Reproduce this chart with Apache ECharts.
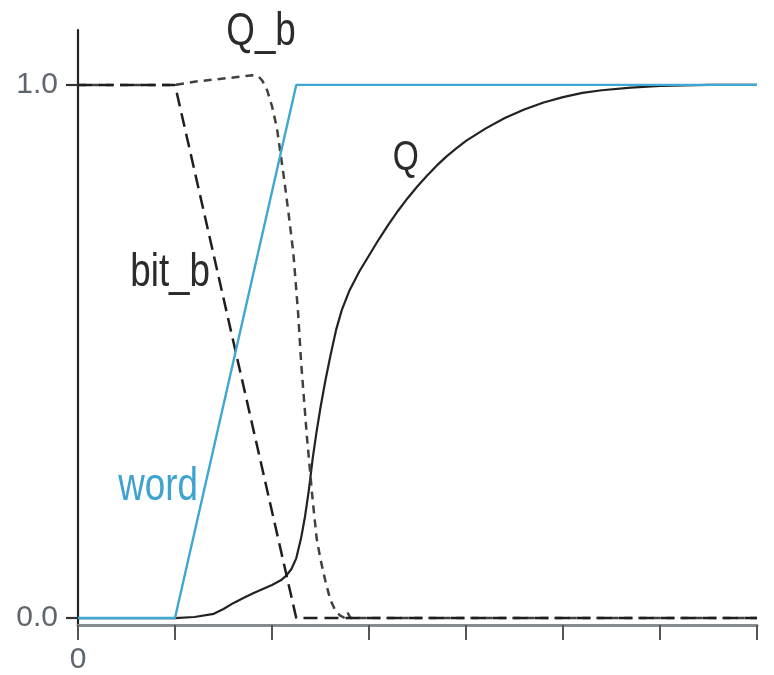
<!DOCTYPE html>
<html>
<head>
<meta charset="utf-8">
<title>Q / Q_b / bit_b / word</title>
<script src="https://cdn.jsdelivr.net/npm/echarts@6/dist/echarts.min.js"></script>
<style>
  html, body { margin: 0; padding: 0; background: #ffffff; }
  #chart { width: 774px; height: 675px; }
</style>
</head>
<body>
<div id="chart"></div>
<script>
// Signal waveforms: [time, level]
const word  = [[0, 0], [1, 0], [2.25, 1], [7, 1]];
const bitB  = [[0, 1], [1, 1], [2.25, 0], [7, 0]];
const qB    = [[0, 1], [1, 1], [1.2, 1.006], [1.4, 1.01], [1.6, 1.014], [1.8, 1.018],
               [1.86, 1.016], [1.9, 1.008], [1.95, 0.99], [2.0, 0.96], [2.05, 0.92],
               [2.12, 0.83], [2.17, 0.76], [2.22, 0.685], [2.27, 0.57], [2.3, 0.48],
               [2.33, 0.41], [2.36, 0.34], [2.39, 0.28], [2.42, 0.22], [2.46, 0.15],
               [2.5, 0.11], [2.55, 0.07], [2.6, 0.035], [2.65, 0.015], [2.7, 0.005],
               [2.75, 0], [2.78, 0.01], [2.81, 0], [7, 0]];
const q     = [[0, 0], [1, 0], [1.2, 0.002], [1.4, 0.008], [1.5, 0.017], [1.6, 0.028],
               [1.7, 0.037], [1.8, 0.046], [1.9, 0.054], [2.0, 0.062], [2.1, 0.072],
               [2.15, 0.08], [2.2, 0.092], [2.25, 0.112], [2.3, 0.15], [2.34, 0.19],
               [2.38, 0.24], [2.42, 0.3], [2.46, 0.35], [2.5, 0.395], [2.55, 0.445],
               [2.6, 0.49], [2.66, 0.54], [2.72, 0.578], [2.8, 0.615], [2.9, 0.65],
               [3.0, 0.68], [3.1, 0.71], [3.2, 0.738], [3.3, 0.764], [3.4, 0.788],
               [3.5, 0.81], [3.6, 0.83], [3.7, 0.849], [3.8, 0.866], [3.9, 0.881],
               [4.0, 0.895], [4.2, 0.918], [4.4, 0.938], [4.6, 0.954], [4.8, 0.967],
               [5.0, 0.977], [5.2, 0.985], [5.4, 0.99], [5.7, 0.995], [6.0, 0.998],
               [6.5, 1.0], [7, 1.0]];

// Axis ticks and their labels
const xTicks = [0, 1, 2, 3, 4, 5, 6, 7];
const xTickLabels = ['0', '', '', '', '', '', '', ''];
const yTicks = [0, 1];
const yTickLabels = ['0.0', '1.0'];

// Curve names written next to the curves, anchored in data units
const curveNames = ['Q_b', 'Q', 'bit_b', 'word'];
const curveNameAnchors = [[1.887, 1.098], [3.38, 0.863], [0.95, 0.647], [0.825, 0.246]];

const FONT = "'Liberation Sans Narrow', 'Liberation Sans', Arial, sans-serif";
const nameStyles = [
  { color: '#2b2b2b', size: 46 },
  { color: '#2b2b2b', size: 42 },
  { color: '#2b2b2b', size: 46 },
  { color: '#3ea3cf', size: 46 }
];

const chart = echarts.init(document.getElementById('chart'), null, { renderer: 'canvas' });

const option = {
  animation: false,
  backgroundColor: '#ffffff',
  textStyle: { fontFamily: FONT },
  grid: { left: 78, right: 17, top: 30, bottom: 50 },
  xAxis: {
    type: 'value',
    min: xTicks[0],
    max: xTicks[xTicks.length - 1],
    interval: 1,
    axisLine: { onZero: false, lineStyle: { color: '#858b91', width: 3 } },
    axisTick: { show: true, length: 15, lineStyle: { color: '#555555', width: 2 } },
    axisLabel: {
      formatter: v => xTickLabels[xTicks.indexOf(v)] || '',
      fontSize: 30, color: '#5e656d', margin: 20, fontFamily: FONT
    },
    splitLine: { show: false }
  },
  yAxis: {
    type: 'value',
    min: -0.013,
    max: 1.103,
    axisLine: { show: true, onZero: false, lineStyle: { color: '#222222', width: 2.2 } },
    axisTick: { show: true, length: 12, customValues: yTicks, lineStyle: { color: '#333333', width: 2.2 } },
    axisLabel: {
      customValues: yTicks,
      formatter: v => yTickLabels[yTicks.indexOf(v)] || '',
      fontSize: 30, color: '#5e656d', margin: 20, fontFamily: FONT
    },
    splitLine: { show: false }
  },
  series: [
    {
      name: 'Q', type: 'line', data: q, showSymbol: false,
      lineStyle: { color: '#222222', width: 2.2 }
    },
    {
      name: 'Q_b', type: 'line', data: qB, showSymbol: false,
      lineStyle: { color: '#404040', width: 2.5, type: [8, 6] }
    },
    {
      name: 'bit_b', type: 'line', data: bitB, showSymbol: false,
      lineStyle: { color: '#1e1e1e', width: 2.5, type: [14, 7] }
    },
    {
      name: 'word', type: 'line', data: word, showSymbol: false,
      lineStyle: { color: '#3fa7d3', width: 2.4 }
    }
  ]
};

chart.setOption(option);

// Place the curve names through the grid's coordinate system
const graphic = curveNames.map((txt, i) => {
  const p = chart.convertToPixel({ gridIndex: 0 }, curveNameAnchors[i]);
  return {
    type: 'text',
    x: p[0], y: p[1],
    scaleX: 0.8, scaleY: 1,
    z: 10,
    style: {
      text: txt,
      fill: nameStyles[i].color,
      font: nameStyles[i].size + "px 'Liberation Sans', Arial, sans-serif",
      align: 'center',
      verticalAlign: 'middle'
    }
  };
});
chart.setOption({ graphic: graphic });
</script>
</body>
</html>
